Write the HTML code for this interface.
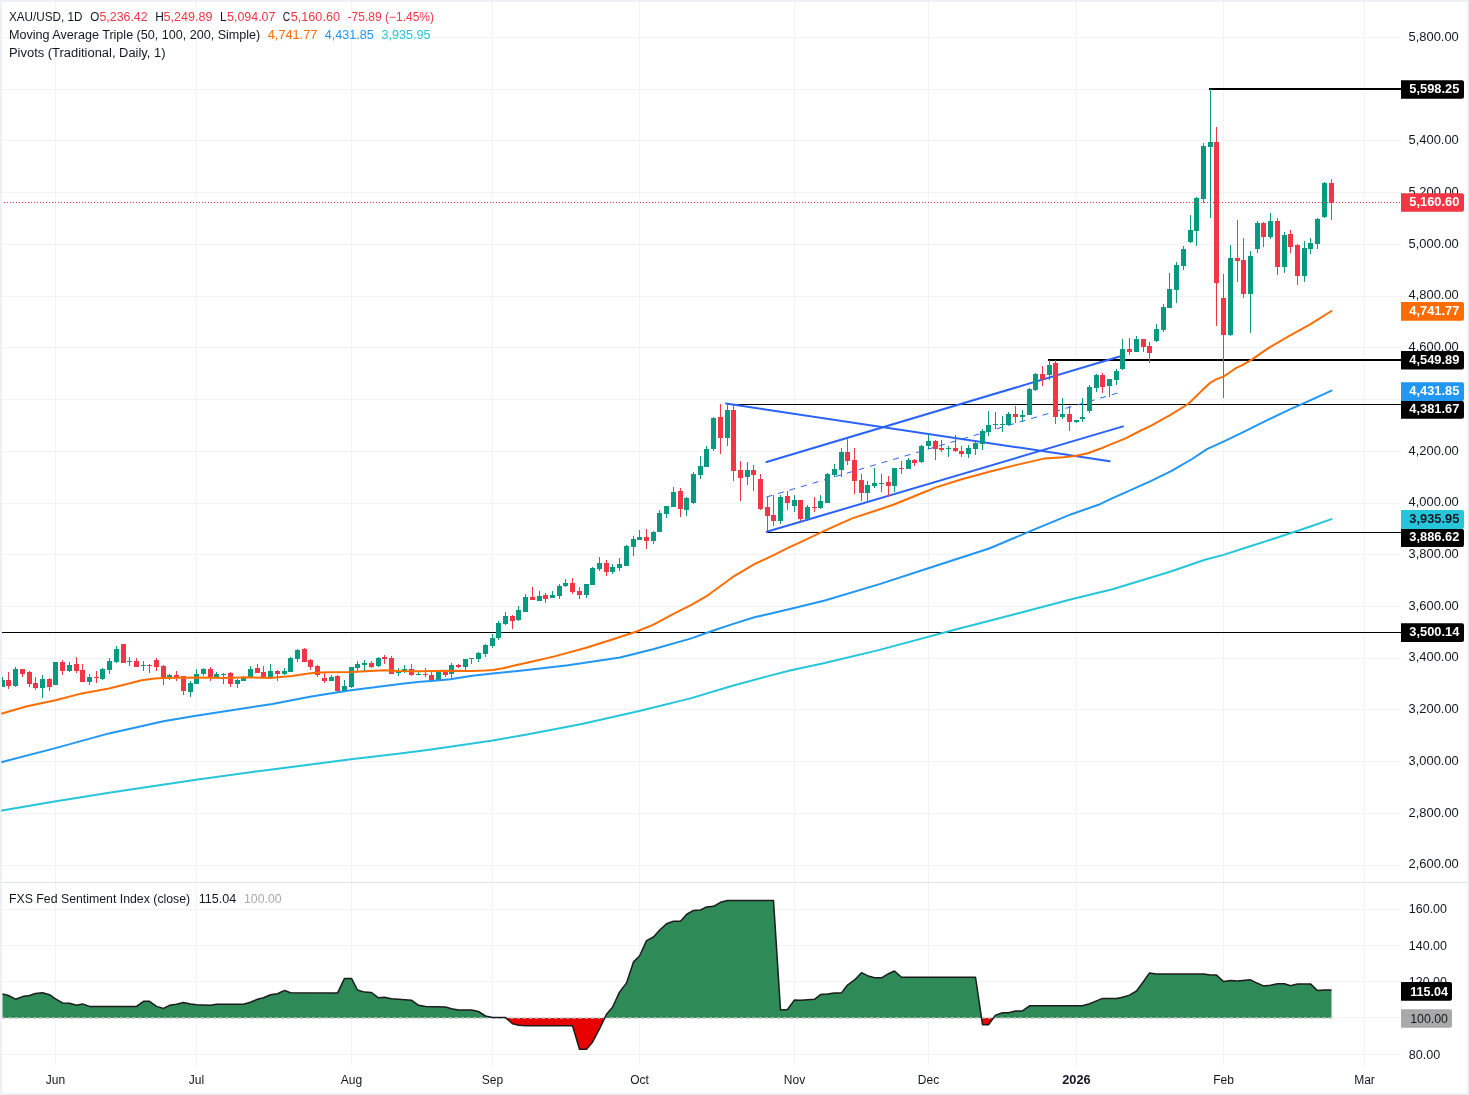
<!DOCTYPE html>
<html><head><meta charset="utf-8"><title>XAU/USD</title>
<style>html,body{margin:0;padding:0;background:#fff}svg{display:block}</style></head>
<body>
<svg width="1469" height="1095" viewBox="0 0 1469 1095" font-family="'Liberation Sans', sans-serif" font-size="12">
<rect x="0" y="0" width="1469" height="1095" fill="#eff0f5"/>
<rect x="2" y="2" width="1465" height="1091" fill="#fff"/>
<g fill="#f2f3f4" shape-rendering="crispEdges">
<rect x="55" y="2" width="1" height="880"/>
<rect x="55" y="883" width="1" height="182"/>
<rect x="196" y="2" width="1" height="880"/>
<rect x="196" y="883" width="1" height="182"/>
<rect x="351" y="2" width="1" height="880"/>
<rect x="351" y="883" width="1" height="182"/>
<rect x="492" y="2" width="1" height="880"/>
<rect x="492" y="883" width="1" height="182"/>
<rect x="639" y="2" width="1" height="880"/>
<rect x="639" y="883" width="1" height="182"/>
<rect x="794" y="2" width="1" height="880"/>
<rect x="794" y="883" width="1" height="182"/>
<rect x="928" y="2" width="1" height="880"/>
<rect x="928" y="883" width="1" height="182"/>
<rect x="1076" y="2" width="1" height="880"/>
<rect x="1076" y="883" width="1" height="182"/>
<rect x="1223" y="2" width="1" height="880"/>
<rect x="1223" y="883" width="1" height="182"/>
<rect x="1364" y="2" width="1" height="880"/>
<rect x="1364" y="883" width="1" height="182"/>
<rect x="2" y="865" width="1399" height="1"/>
<rect x="2" y="813" width="1399" height="1"/>
<rect x="2" y="761" width="1399" height="1"/>
<rect x="2" y="709" width="1399" height="1"/>
<rect x="2" y="658" width="1399" height="1"/>
<rect x="2" y="606" width="1399" height="1"/>
<rect x="2" y="554" width="1399" height="1"/>
<rect x="2" y="503" width="1399" height="1"/>
<rect x="2" y="451" width="1399" height="1"/>
<rect x="2" y="399" width="1399" height="1"/>
<rect x="2" y="347" width="1399" height="1"/>
<rect x="2" y="296" width="1399" height="1"/>
<rect x="2" y="244" width="1399" height="1"/>
<rect x="2" y="192" width="1399" height="1"/>
<rect x="2" y="140" width="1399" height="1"/>
<rect x="2" y="89" width="1399" height="1"/>
<rect x="2" y="37" width="1399" height="1"/>
<rect x="2" y="909" width="1399" height="1"/>
<rect x="2" y="945" width="1399" height="1"/>
<rect x="2" y="981" width="1399" height="1"/>
<rect x="2" y="1017" width="1399" height="1"/>
<rect x="2" y="1054" width="1399" height="1"/>
</g>
<rect x="2" y="882" width="1465" height="1" fill="#e0e3eb" shape-rendering="crispEdges"/>
<g shape-rendering="crispEdges" fill="#000">
<rect x="1209" y="88" width="192" height="2"/>
<rect x="1048" y="359" width="353" height="2"/>
<rect x="727" y="404" width="674" height="1"/>
<rect x="767" y="532" width="634" height="1"/>
<rect x="2" y="632" width="1399" height="1"/>
</g>
<g stroke="#2962ff" stroke-width="2" stroke-linecap="round">
<line x1="726" y1="403.5" x2="1109.7" y2="461.2"/>
<line x1="766.5" y1="462" x2="1120.5" y2="356.2"/>
<line x1="766.7" y1="531.8" x2="1123" y2="426.4"/>
</g>
<line x1="766.5" y1="497" x2="1123" y2="391.4" stroke="#2962ff" stroke-width="1" stroke-dasharray="6 6"/>
<g shape-rendering="crispEdges">
<clipPath id="cp"><rect x="2" y="2" width="1399" height="880"/></clipPath>
<g clip-path="url(#cp)">
<rect x="2" y="677" width="1" height="10" fill="#089981"/>
<rect x="0" y="680" width="5" height="7" fill="#089981"/>
<rect x="8" y="672" width="1" height="17" fill="#f23645"/>
<rect x="6" y="680" width="5" height="6" fill="#f23645"/>
<rect x="15" y="667" width="1" height="20" fill="#089981"/>
<rect x="13" y="669" width="5" height="17" fill="#089981"/>
<rect x="22" y="669" width="1" height="8" fill="#f23645"/>
<rect x="20" y="669" width="5" height="5" fill="#f23645"/>
<rect x="29" y="671" width="1" height="16" fill="#f23645"/>
<rect x="27" y="672" width="5" height="12" fill="#f23645"/>
<rect x="35" y="677" width="1" height="13" fill="#f23645"/>
<rect x="33" y="683" width="5" height="5" fill="#f23645"/>
<rect x="42" y="675" width="1" height="23" fill="#089981"/>
<rect x="40" y="679" width="5" height="9" fill="#089981"/>
<rect x="49" y="678" width="1" height="13" fill="#f23645"/>
<rect x="47" y="679" width="5" height="8" fill="#f23645"/>
<rect x="55" y="662" width="1" height="23" fill="#089981"/>
<rect x="53" y="662" width="5" height="23" fill="#089981"/>
<rect x="62" y="660" width="1" height="15" fill="#f23645"/>
<rect x="60" y="662" width="5" height="9" fill="#f23645"/>
<rect x="69" y="662" width="1" height="10" fill="#089981"/>
<rect x="67" y="665" width="5" height="6" fill="#089981"/>
<rect x="76" y="657" width="1" height="16" fill="#f23645"/>
<rect x="74" y="664" width="5" height="7" fill="#f23645"/>
<rect x="82" y="664" width="1" height="18" fill="#f23645"/>
<rect x="80" y="670" width="5" height="12" fill="#f23645"/>
<rect x="89" y="674" width="1" height="11" fill="#089981"/>
<rect x="87" y="677" width="5" height="5" fill="#089981"/>
<rect x="96" y="671" width="1" height="12" fill="#f23645"/>
<rect x="94" y="677" width="5" height="1" fill="#f23645"/>
<rect x="102" y="668" width="1" height="12" fill="#089981"/>
<rect x="100" y="669" width="5" height="10" fill="#089981"/>
<rect x="109" y="658" width="1" height="16" fill="#089981"/>
<rect x="107" y="661" width="5" height="9" fill="#089981"/>
<rect x="116" y="646" width="1" height="17" fill="#089981"/>
<rect x="114" y="649" width="5" height="13" fill="#089981"/>
<rect x="123" y="644" width="1" height="19" fill="#f23645"/>
<rect x="121" y="644" width="5" height="19" fill="#f23645"/>
<rect x="129" y="657" width="1" height="9" fill="#089981"/>
<rect x="127" y="661" width="5" height="1" fill="#089981"/>
<rect x="136" y="658" width="1" height="9" fill="#f23645"/>
<rect x="134" y="661" width="5" height="6" fill="#f23645"/>
<rect x="143" y="661" width="1" height="10" fill="#089981"/>
<rect x="141" y="665" width="5" height="1" fill="#089981"/>
<rect x="149" y="664" width="1" height="9" fill="#f23645"/>
<rect x="147" y="665" width="5" height="1" fill="#f23645"/>
<rect x="156" y="658" width="1" height="13" fill="#f23645"/>
<rect x="154" y="660" width="5" height="7" fill="#f23645"/>
<rect x="163" y="665" width="1" height="20" fill="#f23645"/>
<rect x="161" y="666" width="5" height="12" fill="#f23645"/>
<rect x="169" y="674" width="1" height="6" fill="#089981"/>
<rect x="167" y="675" width="5" height="3" fill="#089981"/>
<rect x="176" y="671" width="1" height="10" fill="#f23645"/>
<rect x="174" y="675" width="5" height="2" fill="#f23645"/>
<rect x="183" y="676" width="1" height="19" fill="#f23645"/>
<rect x="181" y="676" width="5" height="15" fill="#f23645"/>
<rect x="190" y="681" width="1" height="16" fill="#089981"/>
<rect x="188" y="683" width="5" height="9" fill="#089981"/>
<rect x="196" y="669" width="1" height="15" fill="#089981"/>
<rect x="194" y="674" width="5" height="10" fill="#089981"/>
<rect x="203" y="668" width="1" height="8" fill="#089981"/>
<rect x="201" y="669" width="5" height="5" fill="#089981"/>
<rect x="210" y="667" width="1" height="14" fill="#f23645"/>
<rect x="208" y="669" width="5" height="9" fill="#f23645"/>
<rect x="216" y="672" width="1" height="6" fill="#089981"/>
<rect x="214" y="674" width="5" height="4" fill="#089981"/>
<rect x="223" y="673" width="1" height="11" fill="#089981"/>
<rect x="221" y="674" width="5" height="1" fill="#089981"/>
<rect x="230" y="672" width="1" height="15" fill="#f23645"/>
<rect x="228" y="673" width="5" height="11" fill="#f23645"/>
<rect x="237" y="679" width="1" height="9" fill="#089981"/>
<rect x="235" y="680" width="5" height="4" fill="#089981"/>
<rect x="243" y="676" width="1" height="5" fill="#089981"/>
<rect x="241" y="677" width="5" height="4" fill="#089981"/>
<rect x="250" y="666" width="1" height="12" fill="#089981"/>
<rect x="248" y="669" width="5" height="9" fill="#089981"/>
<rect x="257" y="664" width="1" height="9" fill="#f23645"/>
<rect x="255" y="668" width="5" height="5" fill="#f23645"/>
<rect x="263" y="666" width="1" height="12" fill="#f23645"/>
<rect x="261" y="672" width="5" height="6" fill="#f23645"/>
<rect x="270" y="664" width="1" height="14" fill="#089981"/>
<rect x="268" y="671" width="5" height="7" fill="#089981"/>
<rect x="277" y="670" width="1" height="11" fill="#f23645"/>
<rect x="275" y="671" width="5" height="3" fill="#f23645"/>
<rect x="284" y="668" width="1" height="7" fill="#089981"/>
<rect x="282" y="671" width="5" height="3" fill="#089981"/>
<rect x="290" y="657" width="1" height="15" fill="#089981"/>
<rect x="288" y="658" width="5" height="14" fill="#089981"/>
<rect x="297" y="649" width="1" height="13" fill="#089981"/>
<rect x="295" y="650" width="5" height="9" fill="#089981"/>
<rect x="304" y="648" width="1" height="14" fill="#f23645"/>
<rect x="302" y="649" width="5" height="13" fill="#f23645"/>
<rect x="310" y="659" width="1" height="11" fill="#f23645"/>
<rect x="308" y="660" width="5" height="7" fill="#f23645"/>
<rect x="317" y="665" width="1" height="12" fill="#f23645"/>
<rect x="315" y="666" width="5" height="9" fill="#f23645"/>
<rect x="324" y="672" width="1" height="11" fill="#f23645"/>
<rect x="322" y="678" width="5" height="3" fill="#f23645"/>
<rect x="331" y="675" width="1" height="6" fill="#089981"/>
<rect x="329" y="677" width="5" height="4" fill="#089981"/>
<rect x="337" y="675" width="1" height="17" fill="#f23645"/>
<rect x="335" y="676" width="5" height="15" fill="#f23645"/>
<rect x="344" y="680" width="1" height="11" fill="#089981"/>
<rect x="342" y="686" width="5" height="5" fill="#089981"/>
<rect x="351" y="667" width="1" height="21" fill="#089981"/>
<rect x="349" y="667" width="5" height="20" fill="#089981"/>
<rect x="357" y="661" width="1" height="11" fill="#089981"/>
<rect x="355" y="664" width="5" height="4" fill="#089981"/>
<rect x="364" y="660" width="1" height="11" fill="#089981"/>
<rect x="362" y="663" width="5" height="2" fill="#089981"/>
<rect x="371" y="661" width="1" height="7" fill="#f23645"/>
<rect x="369" y="663" width="5" height="4" fill="#f23645"/>
<rect x="378" y="657" width="1" height="10" fill="#089981"/>
<rect x="376" y="658" width="5" height="8" fill="#089981"/>
<rect x="384" y="655" width="1" height="9" fill="#f23645"/>
<rect x="382" y="657" width="5" height="2" fill="#f23645"/>
<rect x="391" y="656" width="1" height="18" fill="#f23645"/>
<rect x="389" y="658" width="5" height="16" fill="#f23645"/>
<rect x="398" y="668" width="1" height="8" fill="#089981"/>
<rect x="396" y="671" width="5" height="2" fill="#089981"/>
<rect x="404" y="665" width="1" height="8" fill="#089981"/>
<rect x="402" y="669" width="5" height="3" fill="#089981"/>
<rect x="411" y="664" width="1" height="12" fill="#f23645"/>
<rect x="409" y="669" width="5" height="6" fill="#f23645"/>
<rect x="418" y="671" width="1" height="4" fill="#089981"/>
<rect x="416" y="674" width="5" height="1" fill="#089981"/>
<rect x="425" y="668" width="1" height="9" fill="#f23645"/>
<rect x="423" y="674" width="5" height="1" fill="#f23645"/>
<rect x="431" y="672" width="1" height="8" fill="#f23645"/>
<rect x="429" y="675" width="5" height="5" fill="#f23645"/>
<rect x="438" y="671" width="1" height="10" fill="#089981"/>
<rect x="436" y="671" width="5" height="9" fill="#089981"/>
<rect x="445" y="670" width="1" height="7" fill="#f23645"/>
<rect x="443" y="671" width="5" height="4" fill="#f23645"/>
<rect x="451" y="663" width="1" height="15" fill="#089981"/>
<rect x="449" y="665" width="5" height="9" fill="#089981"/>
<rect x="458" y="664" width="1" height="4" fill="#f23645"/>
<rect x="456" y="665" width="5" height="2" fill="#f23645"/>
<rect x="465" y="659" width="1" height="11" fill="#089981"/>
<rect x="463" y="659" width="5" height="8" fill="#089981"/>
<rect x="471" y="658" width="1" height="6" fill="#089981"/>
<rect x="469" y="658" width="5" height="1" fill="#089981"/>
<rect x="478" y="652" width="1" height="10" fill="#089981"/>
<rect x="476" y="653" width="5" height="6" fill="#089981"/>
<rect x="485" y="644" width="1" height="13" fill="#089981"/>
<rect x="483" y="645" width="5" height="9" fill="#089981"/>
<rect x="492" y="634" width="1" height="14" fill="#089981"/>
<rect x="490" y="638" width="5" height="8" fill="#089981"/>
<rect x="498" y="621" width="1" height="19" fill="#089981"/>
<rect x="496" y="623" width="5" height="15" fill="#089981"/>
<rect x="505" y="612" width="1" height="13" fill="#089981"/>
<rect x="503" y="616" width="5" height="8" fill="#089981"/>
<rect x="512" y="615" width="1" height="14" fill="#f23645"/>
<rect x="510" y="616" width="5" height="5" fill="#f23645"/>
<rect x="518" y="606" width="1" height="15" fill="#089981"/>
<rect x="516" y="610" width="5" height="10" fill="#089981"/>
<rect x="525" y="594" width="1" height="18" fill="#089981"/>
<rect x="523" y="597" width="5" height="15" fill="#089981"/>
<rect x="532" y="587" width="1" height="13" fill="#f23645"/>
<rect x="530" y="597" width="5" height="3" fill="#f23645"/>
<rect x="539" y="591" width="1" height="10" fill="#089981"/>
<rect x="537" y="596" width="5" height="5" fill="#089981"/>
<rect x="545" y="593" width="1" height="10" fill="#f23645"/>
<rect x="543" y="595" width="5" height="4" fill="#f23645"/>
<rect x="552" y="591" width="1" height="7" fill="#089981"/>
<rect x="550" y="595" width="5" height="3" fill="#089981"/>
<rect x="559" y="584" width="1" height="15" fill="#089981"/>
<rect x="557" y="586" width="5" height="10" fill="#089981"/>
<rect x="565" y="579" width="1" height="8" fill="#089981"/>
<rect x="563" y="583" width="5" height="3" fill="#089981"/>
<rect x="572" y="578" width="1" height="16" fill="#f23645"/>
<rect x="570" y="583" width="5" height="9" fill="#f23645"/>
<rect x="579" y="587" width="1" height="12" fill="#f23645"/>
<rect x="577" y="591" width="5" height="4" fill="#f23645"/>
<rect x="586" y="584" width="1" height="14" fill="#089981"/>
<rect x="584" y="584" width="5" height="11" fill="#089981"/>
<rect x="592" y="567" width="1" height="18" fill="#089981"/>
<rect x="590" y="568" width="5" height="17" fill="#089981"/>
<rect x="599" y="557" width="1" height="14" fill="#089981"/>
<rect x="597" y="563" width="5" height="6" fill="#089981"/>
<rect x="606" y="560" width="1" height="16" fill="#f23645"/>
<rect x="604" y="563" width="5" height="9" fill="#f23645"/>
<rect x="612" y="564" width="1" height="10" fill="#089981"/>
<rect x="610" y="567" width="5" height="5" fill="#089981"/>
<rect x="619" y="558" width="1" height="13" fill="#089981"/>
<rect x="617" y="564" width="5" height="4" fill="#089981"/>
<rect x="626" y="545" width="1" height="21" fill="#089981"/>
<rect x="624" y="546" width="5" height="20" fill="#089981"/>
<rect x="633" y="536" width="1" height="20" fill="#089981"/>
<rect x="631" y="539" width="5" height="8" fill="#089981"/>
<rect x="639" y="530" width="1" height="10" fill="#089981"/>
<rect x="637" y="537" width="5" height="3" fill="#089981"/>
<rect x="646" y="529" width="1" height="20" fill="#f23645"/>
<rect x="644" y="537" width="5" height="4" fill="#f23645"/>
<rect x="653" y="531" width="1" height="13" fill="#089981"/>
<rect x="651" y="532" width="5" height="9" fill="#089981"/>
<rect x="659" y="510" width="1" height="22" fill="#089981"/>
<rect x="657" y="513" width="5" height="19" fill="#089981"/>
<rect x="666" y="506" width="1" height="12" fill="#089981"/>
<rect x="664" y="506" width="5" height="8" fill="#089981"/>
<rect x="673" y="487" width="1" height="20" fill="#089981"/>
<rect x="671" y="492" width="5" height="15" fill="#089981"/>
<rect x="680" y="488" width="1" height="29" fill="#f23645"/>
<rect x="678" y="491" width="5" height="18" fill="#f23645"/>
<rect x="686" y="497" width="1" height="19" fill="#089981"/>
<rect x="684" y="498" width="5" height="12" fill="#089981"/>
<rect x="693" y="472" width="1" height="32" fill="#089981"/>
<rect x="691" y="474" width="5" height="29" fill="#089981"/>
<rect x="700" y="456" width="1" height="23" fill="#089981"/>
<rect x="698" y="466" width="5" height="9" fill="#089981"/>
<rect x="706" y="446" width="1" height="21" fill="#089981"/>
<rect x="704" y="449" width="5" height="18" fill="#089981"/>
<rect x="713" y="417" width="1" height="34" fill="#089981"/>
<rect x="711" y="418" width="5" height="31" fill="#089981"/>
<rect x="720" y="404" width="1" height="50" fill="#f23645"/>
<rect x="718" y="417" width="5" height="21" fill="#f23645"/>
<rect x="727" y="403" width="1" height="43" fill="#089981"/>
<rect x="725" y="410" width="5" height="28" fill="#089981"/>
<rect x="733" y="405" width="1" height="76" fill="#f23645"/>
<rect x="731" y="410" width="5" height="61" fill="#f23645"/>
<rect x="740" y="461" width="1" height="40" fill="#f23645"/>
<rect x="738" y="470" width="5" height="8" fill="#f23645"/>
<rect x="747" y="462" width="1" height="23" fill="#089981"/>
<rect x="745" y="470" width="5" height="7" fill="#089981"/>
<rect x="753" y="465" width="1" height="26" fill="#f23645"/>
<rect x="751" y="470" width="5" height="5" fill="#f23645"/>
<rect x="760" y="474" width="1" height="36" fill="#f23645"/>
<rect x="758" y="479" width="5" height="30" fill="#f23645"/>
<rect x="767" y="497" width="1" height="35" fill="#f23645"/>
<rect x="765" y="507" width="5" height="9" fill="#f23645"/>
<rect x="773" y="495" width="1" height="31" fill="#f23645"/>
<rect x="771" y="515" width="5" height="6" fill="#f23645"/>
<rect x="780" y="495" width="1" height="29" fill="#089981"/>
<rect x="778" y="497" width="5" height="24" fill="#089981"/>
<rect x="787" y="491" width="1" height="19" fill="#f23645"/>
<rect x="785" y="496" width="5" height="7" fill="#f23645"/>
<rect x="794" y="495" width="1" height="17" fill="#089981"/>
<rect x="792" y="500" width="5" height="6" fill="#089981"/>
<rect x="800" y="500" width="1" height="21" fill="#f23645"/>
<rect x="798" y="500" width="5" height="19" fill="#f23645"/>
<rect x="807" y="505" width="1" height="16" fill="#089981"/>
<rect x="805" y="507" width="5" height="12" fill="#089981"/>
<rect x="814" y="497" width="1" height="15" fill="#f23645"/>
<rect x="812" y="507" width="5" height="1" fill="#f23645"/>
<rect x="820" y="495" width="1" height="14" fill="#089981"/>
<rect x="818" y="501" width="5" height="7" fill="#089981"/>
<rect x="827" y="473" width="1" height="30" fill="#089981"/>
<rect x="825" y="474" width="5" height="29" fill="#089981"/>
<rect x="834" y="464" width="1" height="13" fill="#089981"/>
<rect x="832" y="469" width="5" height="6" fill="#089981"/>
<rect x="841" y="448" width="1" height="29" fill="#089981"/>
<rect x="839" y="452" width="5" height="18" fill="#089981"/>
<rect x="847" y="439" width="1" height="26" fill="#f23645"/>
<rect x="845" y="452" width="5" height="9" fill="#f23645"/>
<rect x="854" y="448" width="1" height="46" fill="#f23645"/>
<rect x="852" y="460" width="5" height="21" fill="#f23645"/>
<rect x="861" y="474" width="1" height="27" fill="#f23645"/>
<rect x="859" y="480" width="5" height="13" fill="#f23645"/>
<rect x="867" y="481" width="1" height="22" fill="#089981"/>
<rect x="865" y="485" width="5" height="8" fill="#089981"/>
<rect x="874" y="468" width="1" height="20" fill="#089981"/>
<rect x="872" y="483" width="5" height="3" fill="#089981"/>
<rect x="881" y="474" width="1" height="18" fill="#089981"/>
<rect x="879" y="483" width="5" height="1" fill="#089981"/>
<rect x="888" y="476" width="1" height="21" fill="#f23645"/>
<rect x="886" y="482" width="5" height="4" fill="#f23645"/>
<rect x="894" y="468" width="1" height="24" fill="#089981"/>
<rect x="892" y="468" width="5" height="18" fill="#089981"/>
<rect x="901" y="461" width="1" height="13" fill="#f23645"/>
<rect x="899" y="468" width="5" height="1" fill="#f23645"/>
<rect x="908" y="458" width="1" height="11" fill="#089981"/>
<rect x="906" y="460" width="5" height="9" fill="#089981"/>
<rect x="914" y="459" width="1" height="7" fill="#f23645"/>
<rect x="912" y="460" width="5" height="3" fill="#f23645"/>
<rect x="921" y="445" width="1" height="18" fill="#089981"/>
<rect x="919" y="446" width="5" height="16" fill="#089981"/>
<rect x="928" y="434" width="1" height="15" fill="#089981"/>
<rect x="926" y="441" width="5" height="5" fill="#089981"/>
<rect x="935" y="440" width="1" height="20" fill="#f23645"/>
<rect x="933" y="441" width="5" height="8" fill="#f23645"/>
<rect x="941" y="440" width="1" height="12" fill="#f23645"/>
<rect x="939" y="448" width="5" height="2" fill="#f23645"/>
<rect x="948" y="446" width="1" height="11" fill="#089981"/>
<rect x="946" y="448" width="5" height="1" fill="#089981"/>
<rect x="955" y="435" width="1" height="17" fill="#f23645"/>
<rect x="953" y="448" width="5" height="3" fill="#f23645"/>
<rect x="961" y="446" width="1" height="11" fill="#f23645"/>
<rect x="959" y="451" width="5" height="3" fill="#f23645"/>
<rect x="968" y="445" width="1" height="13" fill="#089981"/>
<rect x="966" y="448" width="5" height="6" fill="#089981"/>
<rect x="975" y="441" width="1" height="14" fill="#089981"/>
<rect x="973" y="443" width="5" height="6" fill="#089981"/>
<rect x="982" y="429" width="1" height="21" fill="#089981"/>
<rect x="980" y="431" width="5" height="13" fill="#089981"/>
<rect x="988" y="411" width="1" height="25" fill="#089981"/>
<rect x="986" y="425" width="5" height="7" fill="#089981"/>
<rect x="995" y="412" width="1" height="17" fill="#089981"/>
<rect x="993" y="424" width="5" height="1" fill="#089981"/>
<rect x="1002" y="416" width="1" height="16" fill="#089981"/>
<rect x="1000" y="424" width="5" height="1" fill="#089981"/>
<rect x="1008" y="412" width="1" height="13" fill="#089981"/>
<rect x="1006" y="414" width="5" height="11" fill="#089981"/>
<rect x="1015" y="406" width="1" height="17" fill="#f23645"/>
<rect x="1013" y="414" width="5" height="3" fill="#f23645"/>
<rect x="1022" y="410" width="1" height="12" fill="#089981"/>
<rect x="1020" y="415" width="5" height="2" fill="#089981"/>
<rect x="1029" y="388" width="1" height="27" fill="#089981"/>
<rect x="1027" y="389" width="5" height="26" fill="#089981"/>
<rect x="1035" y="373" width="1" height="18" fill="#089981"/>
<rect x="1033" y="374" width="5" height="16" fill="#089981"/>
<rect x="1042" y="366" width="1" height="20" fill="#f23645"/>
<rect x="1040" y="374" width="5" height="5" fill="#f23645"/>
<rect x="1049" y="360" width="1" height="20" fill="#089981"/>
<rect x="1047" y="365" width="5" height="10" fill="#089981"/>
<rect x="1055" y="360" width="1" height="64" fill="#f23645"/>
<rect x="1053" y="363" width="5" height="54" fill="#f23645"/>
<rect x="1062" y="398" width="1" height="21" fill="#089981"/>
<rect x="1060" y="414" width="5" height="3" fill="#089981"/>
<rect x="1069" y="406" width="1" height="25" fill="#f23645"/>
<rect x="1067" y="414" width="5" height="8" fill="#f23645"/>
<rect x="1076" y="420" width="1" height="3" fill="#089981"/>
<rect x="1074" y="420" width="5" height="2" fill="#089981"/>
<rect x="1082" y="398" width="1" height="24" fill="#089981"/>
<rect x="1080" y="417" width="5" height="2" fill="#089981"/>
<rect x="1089" y="385" width="1" height="28" fill="#089981"/>
<rect x="1087" y="387" width="5" height="24" fill="#089981"/>
<rect x="1096" y="374" width="1" height="18" fill="#089981"/>
<rect x="1094" y="375" width="5" height="13" fill="#089981"/>
<rect x="1102" y="373" width="1" height="20" fill="#f23645"/>
<rect x="1100" y="375" width="5" height="12" fill="#f23645"/>
<rect x="1109" y="379" width="1" height="18" fill="#089981"/>
<rect x="1107" y="379" width="5" height="7" fill="#089981"/>
<rect x="1116" y="369" width="1" height="16" fill="#089981"/>
<rect x="1114" y="371" width="5" height="9" fill="#089981"/>
<rect x="1122" y="339" width="1" height="31" fill="#089981"/>
<rect x="1120" y="349" width="5" height="20" fill="#089981"/>
<rect x="1129" y="338" width="1" height="17" fill="#f23645"/>
<rect x="1127" y="349" width="5" height="3" fill="#f23645"/>
<rect x="1136" y="336" width="1" height="16" fill="#089981"/>
<rect x="1134" y="339" width="5" height="13" fill="#089981"/>
<rect x="1143" y="339" width="1" height="13" fill="#f23645"/>
<rect x="1141" y="339" width="5" height="8" fill="#f23645"/>
<rect x="1149" y="342" width="1" height="21" fill="#f23645"/>
<rect x="1147" y="346" width="5" height="7" fill="#f23645"/>
<rect x="1156" y="324" width="1" height="18" fill="#089981"/>
<rect x="1154" y="329" width="5" height="12" fill="#089981"/>
<rect x="1163" y="304" width="1" height="28" fill="#089981"/>
<rect x="1161" y="307" width="5" height="23" fill="#089981"/>
<rect x="1169" y="273" width="1" height="35" fill="#089981"/>
<rect x="1167" y="289" width="5" height="19" fill="#089981"/>
<rect x="1176" y="262" width="1" height="41" fill="#089981"/>
<rect x="1174" y="265" width="5" height="25" fill="#089981"/>
<rect x="1183" y="246" width="1" height="24" fill="#089981"/>
<rect x="1181" y="249" width="5" height="17" fill="#089981"/>
<rect x="1190" y="215" width="1" height="28" fill="#089981"/>
<rect x="1188" y="230" width="5" height="12" fill="#089981"/>
<rect x="1196" y="197" width="1" height="49" fill="#089981"/>
<rect x="1194" y="198" width="5" height="33" fill="#089981"/>
<rect x="1203" y="143" width="1" height="60" fill="#089981"/>
<rect x="1201" y="146" width="5" height="53" fill="#089981"/>
<rect x="1210" y="89" width="1" height="129" fill="#089981"/>
<rect x="1208" y="142" width="5" height="5" fill="#089981"/>
<rect x="1216" y="127" width="1" height="199" fill="#f23645"/>
<rect x="1214" y="142" width="5" height="141" fill="#f23645"/>
<rect x="1223" y="274" width="1" height="124" fill="#f23645"/>
<rect x="1221" y="298" width="5" height="37" fill="#f23645"/>
<rect x="1230" y="245" width="1" height="91" fill="#089981"/>
<rect x="1228" y="258" width="5" height="77" fill="#089981"/>
<rect x="1237" y="220" width="1" height="62" fill="#f23645"/>
<rect x="1235" y="258" width="5" height="3" fill="#f23645"/>
<rect x="1243" y="238" width="1" height="60" fill="#f23645"/>
<rect x="1241" y="260" width="5" height="34" fill="#f23645"/>
<rect x="1250" y="251" width="1" height="82" fill="#089981"/>
<rect x="1248" y="256" width="5" height="38" fill="#089981"/>
<rect x="1257" y="221" width="1" height="32" fill="#089981"/>
<rect x="1255" y="223" width="5" height="26" fill="#089981"/>
<rect x="1263" y="222" width="1" height="25" fill="#f23645"/>
<rect x="1261" y="223" width="5" height="14" fill="#f23645"/>
<rect x="1270" y="213" width="1" height="26" fill="#089981"/>
<rect x="1268" y="221" width="5" height="16" fill="#089981"/>
<rect x="1277" y="218" width="1" height="57" fill="#f23645"/>
<rect x="1275" y="221" width="5" height="46" fill="#f23645"/>
<rect x="1284" y="232" width="1" height="41" fill="#089981"/>
<rect x="1282" y="235" width="5" height="32" fill="#089981"/>
<rect x="1290" y="230" width="1" height="23" fill="#f23645"/>
<rect x="1288" y="234" width="5" height="13" fill="#f23645"/>
<rect x="1297" y="244" width="1" height="41" fill="#f23645"/>
<rect x="1295" y="245" width="5" height="31" fill="#f23645"/>
<rect x="1304" y="241" width="1" height="41" fill="#089981"/>
<rect x="1302" y="248" width="5" height="28" fill="#089981"/>
<rect x="1310" y="238" width="1" height="16" fill="#089981"/>
<rect x="1308" y="243" width="5" height="6" fill="#089981"/>
<rect x="1317" y="218" width="1" height="31" fill="#089981"/>
<rect x="1315" y="219" width="5" height="25" fill="#089981"/>
<rect x="1324" y="182" width="1" height="36" fill="#089981"/>
<rect x="1322" y="183" width="5" height="34" fill="#089981"/>
<rect x="1331" y="179" width="1" height="41" fill="#f23645"/>
<rect x="1329" y="183" width="5" height="20" fill="#f23645"/>
</g></g>
<polyline points="2.0,810.5 54.5,801.5 109.0,792.8 196.0,779.7 272.0,769.4 351.0,759.3 400.0,753.6 431.1,749.6 492.7,740.5 527.0,734.5 581.8,724.1 639.3,711.0 691.4,698.1 732.5,685.8 770.0,675.6 790.0,670.5 824.8,663.0 879.6,649.9 950.8,630.7 1016.6,613.7 1071.4,599.2 1112.5,589.2 1170.0,571.8 1204.9,559.7 1223.5,554.9 1243.2,548.5 1279.0,537.0 1309.7,526.8 1331.5,519.1" fill="none" stroke="#26c6da" stroke-width="2" stroke-linejoin="round" stroke-linecap="round"/>
<polyline points="2.0,762.0 54.5,748.4 109.0,733.4 163.4,721.2 196.0,715.7 272.3,704.0 310.0,696.8 326.7,693.9 351.0,690.2 400.0,683.9 417.4,682.0 440.0,680.2 450.3,679.3 472.2,675.7 492.7,673.6 527.0,670.1 568.0,665.2 620.0,657.5 653.0,649.3 691.4,638.4 710.5,631.5 732.5,624.1 754.4,617.3 770.0,613.8 790.0,609.0 824.8,600.5 879.6,584.1 934.4,566.3 989.2,548.5 1030.3,531.2 1071.4,514.2 1100.0,504.2 1112.5,498.2 1125.6,492.3 1151.2,480.8 1171.6,470.8 1192.1,459.0 1207.4,448.8 1223.5,441.6 1243.2,432.2 1268.8,419.4 1289.3,409.7 1309.7,400.7 1331.5,390.6" fill="none" stroke="#2196f3" stroke-width="2" stroke-linejoin="round" stroke-linecap="round"/>
<polyline points="2.0,713.5 27.0,706.2 55.5,700.3 81.7,693.4 109.0,688.5 125.0,684.5 141.6,680.2 155.0,678.6 163.4,678.0 196.0,677.6 226.0,677.9 248.0,677.2 270.0,677.9 286.0,676.6 292.0,676.0 305.0,674.0 315.0,672.8 326.7,672.2 351.0,672.1 370.0,671.0 384.5,670.2 398.0,671.0 420.0,671.2 444.8,670.7 472.2,671.1 485.0,670.6 492.7,669.9 503.0,668.3 513.3,665.8 532.5,661.6 554.4,656.4 584.5,648.2 609.2,640.5 636.6,631.5 653.0,624.9 674.9,613.2 691.4,604.9 707.8,595.3 732.5,577.2 754.4,564.2 773.6,555.1 790.0,546.9 797.4,543.6 824.8,530.7 852.2,518.4 878.4,509.8 893.3,504.7 927.7,490.8 934.4,487.9 961.8,479.2 989.2,471.8 1016.6,464.9 1044.0,458.6 1063.2,457.3 1075.0,456.0 1087.8,453.2 1100.0,448.8 1112.5,443.6 1125.6,438.4 1139.9,431.0 1151.2,425.6 1170.0,415.2 1188.1,404.0 1194.7,397.7 1201.8,390.6 1210.0,382.9 1216.6,379.1 1223.4,376.6 1230.3,372.0 1236.3,367.9 1242.9,364.9 1250.5,360.4 1268.8,347.9 1289.3,335.8 1309.7,324.6 1331.5,311.0" fill="none" stroke="#ff6d00" stroke-width="2" stroke-linejoin="round" stroke-linecap="round"/>
<line x1="2" y1="202.5" x2="1401" y2="202.5" stroke="#f23645" stroke-width="1" stroke-dasharray="1 2" stroke-dashoffset="1" shape-rendering="crispEdges"/>
<clipPath id="cu"><rect x="2" y="883" width="1330" height="135"/></clipPath>
<clipPath id="cd"><rect x="2" y="1018" width="1330" height="47"/></clipPath>
<path d="M2.5,994.1 L8.5,995.5 L15.5,999.2 L22.5,996.6 L29.5,995.5 L35.5,993.5 L42.5,992.7 L49.5,994.7 L55.5,998.8 L62.5,1002.9 L69.5,1003.3 L76.5,1005.3 L82.5,1003.9 L89.5,1006.4 L136.5,1006.4 L143.5,1001.3 L149.5,1001.3 L156.5,1006.4 L163.5,1008.4 L169.5,1005.3 L176.5,1004.3 L183.5,1002.5 L190.5,1003.9 L196.5,1004.7 L210.5,1005.3 L216.5,1004.3 L243.5,1004.3 L250.5,1002.3 L257.5,999.2 L263.5,997.8 L270.5,994.7 L277.5,993.7 L284.5,990.4 L290.5,992.7 L337.5,993.1 L344.5,978.4 L351.5,978.4 L357.5,990.0 L364.5,992.1 L371.5,992.5 L378.5,997.8 L384.5,997.2 L391.5,998.8 L398.5,999.2 L411.5,1000.2 L418.5,1005.3 L425.5,1006.4 L445.5,1007.0 L451.5,1008.8 L458.5,1010.0 L471.5,1010.0 L478.5,1011.5 L485.5,1016.0 L492.5,1017.6 L505.5,1017.6 L512.5,1023.7 L518.5,1025.2 L525.5,1025.8 L572.5,1025.8 L579.5,1049.3 L586.5,1049.3 L592.5,1042.2 L599.5,1028.9 L606.5,1014.3 L612.5,1007.3 L619.5,992.1 L626.5,982.9 L633.5,961.9 L639.5,956.0 L646.5,940.6 L653.5,937.0 L659.5,930.2 L666.5,923.7 L673.5,921.2 L680.5,921.2 L686.5,914.5 L693.5,910.4 L700.5,910.0 L706.5,906.9 L713.5,906.3 L720.5,902.3 L727.5,900.6 L773.5,900.6 L780.5,1009.9 L787.5,1009.5 L794.5,999.9 L800.5,1000.3 L814.5,999.3 L820.5,994.6 L827.5,994.1 L834.5,992.9 L841.5,992.9 L847.5,985.0 L854.5,979.9 L861.5,972.7 L867.5,975.7 L874.5,977.8 L881.5,977.8 L888.5,973.7 L894.5,971.0 L901.5,977.2 L975.5,977.2 L982.5,1024.7 L988.5,1024.7 L995.5,1015.1 L1002.5,1012.7 L1008.5,1012.7 L1015.5,1010.9 L1022.5,1010.9 L1029.5,1005.8 L1082.5,1005.8 L1089.5,1003.7 L1096.5,1000.9 L1102.5,998.4 L1116.5,998.4 L1122.5,997.2 L1129.5,995.1 L1136.5,991.0 L1143.5,981.5 L1149.5,972.9 L1156.5,974.1 L1203.5,974.1 L1210.5,975.1 L1216.5,975.1 L1223.5,981.5 L1230.5,980.4 L1237.5,981.0 L1250.5,979.8 L1257.5,983.3 L1263.5,985.9 L1270.5,985.3 L1277.5,983.7 L1284.5,983.7 L1290.5,985.7 L1297.5,983.9 L1310.5,983.9 L1317.5,990.6 L1324.5,990.0 L1331.5,990.0 L1331.5,1018.0 L2.5,1018.0 Z" fill="#2e8b57" clip-path="url(#cu)"/>
<path d="M2.5,994.1 L8.5,995.5 L15.5,999.2 L22.5,996.6 L29.5,995.5 L35.5,993.5 L42.5,992.7 L49.5,994.7 L55.5,998.8 L62.5,1002.9 L69.5,1003.3 L76.5,1005.3 L82.5,1003.9 L89.5,1006.4 L136.5,1006.4 L143.5,1001.3 L149.5,1001.3 L156.5,1006.4 L163.5,1008.4 L169.5,1005.3 L176.5,1004.3 L183.5,1002.5 L190.5,1003.9 L196.5,1004.7 L210.5,1005.3 L216.5,1004.3 L243.5,1004.3 L250.5,1002.3 L257.5,999.2 L263.5,997.8 L270.5,994.7 L277.5,993.7 L284.5,990.4 L290.5,992.7 L337.5,993.1 L344.5,978.4 L351.5,978.4 L357.5,990.0 L364.5,992.1 L371.5,992.5 L378.5,997.8 L384.5,997.2 L391.5,998.8 L398.5,999.2 L411.5,1000.2 L418.5,1005.3 L425.5,1006.4 L445.5,1007.0 L451.5,1008.8 L458.5,1010.0 L471.5,1010.0 L478.5,1011.5 L485.5,1016.0 L492.5,1017.6 L505.5,1017.6 L512.5,1023.7 L518.5,1025.2 L525.5,1025.8 L572.5,1025.8 L579.5,1049.3 L586.5,1049.3 L592.5,1042.2 L599.5,1028.9 L606.5,1014.3 L612.5,1007.3 L619.5,992.1 L626.5,982.9 L633.5,961.9 L639.5,956.0 L646.5,940.6 L653.5,937.0 L659.5,930.2 L666.5,923.7 L673.5,921.2 L680.5,921.2 L686.5,914.5 L693.5,910.4 L700.5,910.0 L706.5,906.9 L713.5,906.3 L720.5,902.3 L727.5,900.6 L773.5,900.6 L780.5,1009.9 L787.5,1009.5 L794.5,999.9 L800.5,1000.3 L814.5,999.3 L820.5,994.6 L827.5,994.1 L834.5,992.9 L841.5,992.9 L847.5,985.0 L854.5,979.9 L861.5,972.7 L867.5,975.7 L874.5,977.8 L881.5,977.8 L888.5,973.7 L894.5,971.0 L901.5,977.2 L975.5,977.2 L982.5,1024.7 L988.5,1024.7 L995.5,1015.1 L1002.5,1012.7 L1008.5,1012.7 L1015.5,1010.9 L1022.5,1010.9 L1029.5,1005.8 L1082.5,1005.8 L1089.5,1003.7 L1096.5,1000.9 L1102.5,998.4 L1116.5,998.4 L1122.5,997.2 L1129.5,995.1 L1136.5,991.0 L1143.5,981.5 L1149.5,972.9 L1156.5,974.1 L1203.5,974.1 L1210.5,975.1 L1216.5,975.1 L1223.5,981.5 L1230.5,980.4 L1237.5,981.0 L1250.5,979.8 L1257.5,983.3 L1263.5,985.9 L1270.5,985.3 L1277.5,983.7 L1284.5,983.7 L1290.5,985.7 L1297.5,983.9 L1310.5,983.9 L1317.5,990.6 L1324.5,990.0 L1331.5,990.0 L1331.5,1018.0 L2.5,1018.0 Z" fill="#e60000" clip-path="url(#cd)"/>
<line x1="2" y1="1018" x2="1332" y2="1018" stroke="#c2c2c2" stroke-width="1.5" stroke-dasharray="3.4 2.8"/>
<clipPath id="ci"><rect x="2" y="883" width="1330" height="182"/></clipPath>
<path d="M2.5,994.1 L8.5,995.5 L15.5,999.2 L22.5,996.6 L29.5,995.5 L35.5,993.5 L42.5,992.7 L49.5,994.7 L55.5,998.8 L62.5,1002.9 L69.5,1003.3 L76.5,1005.3 L82.5,1003.9 L89.5,1006.4 L136.5,1006.4 L143.5,1001.3 L149.5,1001.3 L156.5,1006.4 L163.5,1008.4 L169.5,1005.3 L176.5,1004.3 L183.5,1002.5 L190.5,1003.9 L196.5,1004.7 L210.5,1005.3 L216.5,1004.3 L243.5,1004.3 L250.5,1002.3 L257.5,999.2 L263.5,997.8 L270.5,994.7 L277.5,993.7 L284.5,990.4 L290.5,992.7 L337.5,993.1 L344.5,978.4 L351.5,978.4 L357.5,990.0 L364.5,992.1 L371.5,992.5 L378.5,997.8 L384.5,997.2 L391.5,998.8 L398.5,999.2 L411.5,1000.2 L418.5,1005.3 L425.5,1006.4 L445.5,1007.0 L451.5,1008.8 L458.5,1010.0 L471.5,1010.0 L478.5,1011.5 L485.5,1016.0 L492.5,1017.6 L505.5,1017.6 L512.5,1023.7 L518.5,1025.2 L525.5,1025.8 L572.5,1025.8 L579.5,1049.3 L586.5,1049.3 L592.5,1042.2 L599.5,1028.9 L606.5,1014.3 L612.5,1007.3 L619.5,992.1 L626.5,982.9 L633.5,961.9 L639.5,956.0 L646.5,940.6 L653.5,937.0 L659.5,930.2 L666.5,923.7 L673.5,921.2 L680.5,921.2 L686.5,914.5 L693.5,910.4 L700.5,910.0 L706.5,906.9 L713.5,906.3 L720.5,902.3 L727.5,900.6 L773.5,900.6 L780.5,1009.9 L787.5,1009.5 L794.5,999.9 L800.5,1000.3 L814.5,999.3 L820.5,994.6 L827.5,994.1 L834.5,992.9 L841.5,992.9 L847.5,985.0 L854.5,979.9 L861.5,972.7 L867.5,975.7 L874.5,977.8 L881.5,977.8 L888.5,973.7 L894.5,971.0 L901.5,977.2 L975.5,977.2 L982.5,1024.7 L988.5,1024.7 L995.5,1015.1 L1002.5,1012.7 L1008.5,1012.7 L1015.5,1010.9 L1022.5,1010.9 L1029.5,1005.8 L1082.5,1005.8 L1089.5,1003.7 L1096.5,1000.9 L1102.5,998.4 L1116.5,998.4 L1122.5,997.2 L1129.5,995.1 L1136.5,991.0 L1143.5,981.5 L1149.5,972.9 L1156.5,974.1 L1203.5,974.1 L1210.5,975.1 L1216.5,975.1 L1223.5,981.5 L1230.5,980.4 L1237.5,981.0 L1250.5,979.8 L1257.5,983.3 L1263.5,985.9 L1270.5,985.3 L1277.5,983.7 L1284.5,983.7 L1290.5,985.7 L1297.5,983.9 L1310.5,983.9 L1317.5,990.6 L1324.5,990.0 L1331.5,990.0" fill="none" stroke="#1c1c1c" stroke-width="1.5" stroke-linejoin="round" clip-path="url(#ci)"/>
<text x="1408.6" y="868.0" fill="#131722" textLength="50.2" lengthAdjust="spacingAndGlyphs">2,600.00</text>
<text x="1408.6" y="817.0" fill="#131722" textLength="50.2" lengthAdjust="spacingAndGlyphs">2,800.00</text>
<text x="1408.6" y="765.0" fill="#131722" textLength="50.2" lengthAdjust="spacingAndGlyphs">3,000.00</text>
<text x="1408.6" y="713.0" fill="#131722" textLength="50.2" lengthAdjust="spacingAndGlyphs">3,200.00</text>
<text x="1408.6" y="661.0" fill="#131722" textLength="50.2" lengthAdjust="spacingAndGlyphs">3,400.00</text>
<text x="1408.6" y="610.0" fill="#131722" textLength="50.2" lengthAdjust="spacingAndGlyphs">3,600.00</text>
<text x="1408.6" y="558.0" fill="#131722" textLength="50.2" lengthAdjust="spacingAndGlyphs">3,800.00</text>
<text x="1408.6" y="506.0" fill="#131722" textLength="50.2" lengthAdjust="spacingAndGlyphs">4,000.00</text>
<text x="1408.6" y="455.0" fill="#131722" textLength="50.2" lengthAdjust="spacingAndGlyphs">4,200.00</text>
<text x="1408.6" y="403.0" fill="#131722" textLength="50.2" lengthAdjust="spacingAndGlyphs">4,400.00</text>
<text x="1408.6" y="351.0" fill="#131722" textLength="50.2" lengthAdjust="spacingAndGlyphs">4,600.00</text>
<text x="1408.6" y="299.0" fill="#131722" textLength="50.2" lengthAdjust="spacingAndGlyphs">4,800.00</text>
<text x="1408.6" y="248.0" fill="#131722" textLength="50.2" lengthAdjust="spacingAndGlyphs">5,000.00</text>
<text x="1408.6" y="196.0" fill="#131722" textLength="50.2" lengthAdjust="spacingAndGlyphs">5,200.00</text>
<text x="1408.6" y="144.0" fill="#131722" textLength="50.2" lengthAdjust="spacingAndGlyphs">5,400.00</text>
<text x="1408.6" y="92.0" fill="#131722" textLength="50.2" lengthAdjust="spacingAndGlyphs">5,600.00</text>
<text x="1408.6" y="41.0" fill="#131722" textLength="50.2" lengthAdjust="spacingAndGlyphs">5,800.00</text>
<text x="1408.8" y="913.0" fill="#131722" textLength="38.2" lengthAdjust="spacingAndGlyphs">160.00</text>
<text x="1408.8" y="950.0" fill="#131722" textLength="38.2" lengthAdjust="spacingAndGlyphs">140.00</text>
<text x="1408.8" y="986.0" fill="#131722" textLength="38.2" lengthAdjust="spacingAndGlyphs">120.00</text>
<text x="1408.8" y="1023.0" fill="#131722" textLength="38.2" lengthAdjust="spacingAndGlyphs">100.00</text>
<text x="1408.8" y="1059.0" fill="#131722" textLength="31.4" lengthAdjust="spacingAndGlyphs">80.00</text>
<path d="M1401,80.2 H1462 Q1464,80.2 1464,82.2 V96.8 Q1464,98.8 1462,98.8 H1401 Z" fill="#000"/>
<text x="1409.3" y="93" fill="#fff" font-weight="bold" textLength="50" lengthAdjust="spacingAndGlyphs">5,598.25</text>
<path d="M1401,193.2 H1462 Q1464,193.2 1464,195.2 V209.7 Q1464,211.7 1462,211.7 H1401 Z" fill="#f23645"/>
<text x="1409.3" y="206" fill="#fff" font-weight="bold" textLength="50" lengthAdjust="spacingAndGlyphs">5,160.60</text>
<path d="M1401,302 H1462 Q1464,302 1464,304 V318.8 Q1464,320.8 1462,320.8 H1401 Z" fill="#ff6d00"/>
<text x="1409.3" y="315" fill="#fff" font-weight="bold" textLength="50" lengthAdjust="spacingAndGlyphs">4,741.77</text>
<path d="M1401,351.1 H1462 Q1464,351.1 1464,353.1 V367.6 Q1464,369.6 1462,369.6 H1401 Z" fill="#000"/>
<text x="1409.3" y="364" fill="#fff" font-weight="bold" textLength="50" lengthAdjust="spacingAndGlyphs">4,549.89</text>
<path d="M1401,400.9 H1462 Q1464,400.9 1464,402.9 V416.7 Q1464,418.7 1462,418.7 H1401 Z" fill="#000"/>
<text x="1409.3" y="413" fill="#fff" font-weight="bold" textLength="50" lengthAdjust="spacingAndGlyphs">4,381.67</text>
<path d="M1401,382.2 H1462 Q1464,382.2 1464,384.2 V398.9 Q1464,400.9 1462,400.9 H1401 Z" fill="#2196f3"/>
<text x="1409.3" y="395" fill="#fff" font-weight="bold" textLength="50" lengthAdjust="spacingAndGlyphs">4,431.85</text>
<path d="M1401,529 H1462 Q1464,529 1464,531 V544.9 Q1464,546.9 1462,546.9 H1401 Z" fill="#000"/>
<text x="1409.3" y="541" fill="#fff" font-weight="bold" textLength="50" lengthAdjust="spacingAndGlyphs">3,886.62</text>
<path d="M1401,510.1 H1462 Q1464,510.1 1464,512.1 V527.1 Q1464,529.1 1462,529.1 H1401 Z" fill="#26c6da"/>
<text x="1409.3" y="523" fill="#131722" font-weight="bold" textLength="50" lengthAdjust="spacingAndGlyphs">3,935.95</text>
<path d="M1401,623.2 H1462 Q1464,623.2 1464,625.2 V639.9 Q1464,641.9 1462,641.9 H1401 Z" fill="#000"/>
<text x="1409.3" y="636" fill="#fff" font-weight="bold" textLength="50" lengthAdjust="spacingAndGlyphs">3,500.14</text>
<path d="M1401,982.05 H1450 Q1452,982.05 1452,984.05 V998.85 Q1452,1000.85 1450,1000.85 H1401 Z" fill="#000"/>
<text x="1410.2" y="996" fill="#fff" font-weight="bold" textLength="37.8" lengthAdjust="spacingAndGlyphs">115.04</text>
<path d="M1401,1009.2 H1450 Q1452,1009.2 1452,1011.2 V1025.7 Q1452,1027.7 1450,1027.7 H1401 Z" fill="#a9a9a9"/>
<text x="1410.2" y="1023" fill="#131722" textLength="37.8" lengthAdjust="spacingAndGlyphs">100.00</text>
<text x="9.0" y="20.7" fill="#131722" textLength="73.5" lengthAdjust="spacingAndGlyphs">XAU/USD, 1D</text>
<text x="90.3" y="20.7" fill="#131722" textLength="9.1" lengthAdjust="spacingAndGlyphs">O</text>
<text x="99.5" y="20.7" fill="#f23645" textLength="48.1" lengthAdjust="spacingAndGlyphs">5,236.42</text>
<text x="155.3" y="20.7" fill="#131722" textLength="8.6" lengthAdjust="spacingAndGlyphs">H</text>
<text x="163.6" y="20.7" fill="#f23645" textLength="49.0" lengthAdjust="spacingAndGlyphs">5,249.89</text>
<text x="220.0" y="20.7" fill="#131722" textLength="6.6" lengthAdjust="spacingAndGlyphs">L</text>
<text x="227.1" y="20.7" fill="#f23645" textLength="48.3" lengthAdjust="spacingAndGlyphs">5,094.07</text>
<text x="282.8" y="20.7" fill="#131722" textLength="7.4" lengthAdjust="spacingAndGlyphs">C</text>
<text x="290.7" y="20.7" fill="#f23645" textLength="49.3" lengthAdjust="spacingAndGlyphs">5,160.60</text>
<text x="347.6" y="20.7" fill="#f23645" textLength="86.4" lengthAdjust="spacingAndGlyphs">-75.89 (−1.45%)</text>
<text x="9.0" y="38.7" fill="#131722" textLength="251.3" lengthAdjust="spacingAndGlyphs">Moving Average Triple (50, 100, 200, Simple)</text>
<text x="267.8" y="38.7" fill="#ff6d00" textLength="49.5" lengthAdjust="spacingAndGlyphs">4,741.77</text>
<text x="324.7" y="38.7" fill="#2196f3" textLength="49.0" lengthAdjust="spacingAndGlyphs">4,431.85</text>
<text x="381.4" y="38.7" fill="#26c6da" textLength="49.0" lengthAdjust="spacingAndGlyphs">3,935.95</text>
<text x="9.0" y="56.5" fill="#131722" textLength="156.5" lengthAdjust="spacingAndGlyphs">Pivots (Traditional, Daily, 1)</text>
<text x="9.0" y="902.6" fill="#131722" textLength="181.2" lengthAdjust="spacingAndGlyphs">FXS Fed Sentiment Index (close)</text>
<text x="198.7" y="902.6" fill="#131722" textLength="37.6" lengthAdjust="spacingAndGlyphs">115.04</text>
<text x="244.0" y="902.6" fill="#a9a9a9" textLength="37.6" lengthAdjust="spacingAndGlyphs">100.00</text>
<text x="55.5" y="1084" fill="#131722" text-anchor="middle">Jun</text>
<text x="196.5" y="1084" fill="#131722" text-anchor="middle">Jul</text>
<text x="351.5" y="1084" fill="#131722" text-anchor="middle">Aug</text>
<text x="492.5" y="1084" fill="#131722" text-anchor="middle">Sep</text>
<text x="639.5" y="1084" fill="#131722" text-anchor="middle">Oct</text>
<text x="794.5" y="1084" fill="#131722" text-anchor="middle">Nov</text>
<text x="928.5" y="1084" fill="#131722" text-anchor="middle">Dec</text>
<text x="1223.5" y="1084" fill="#131722" text-anchor="middle">Feb</text>
<text x="1364.5" y="1084" fill="#131722" text-anchor="middle">Mar</text>
<text x="1076.5" y="1084" fill="#131722" text-anchor="middle" font-weight="bold" textLength="28.5" lengthAdjust="spacingAndGlyphs">2026</text>
</svg>
</body></html>
